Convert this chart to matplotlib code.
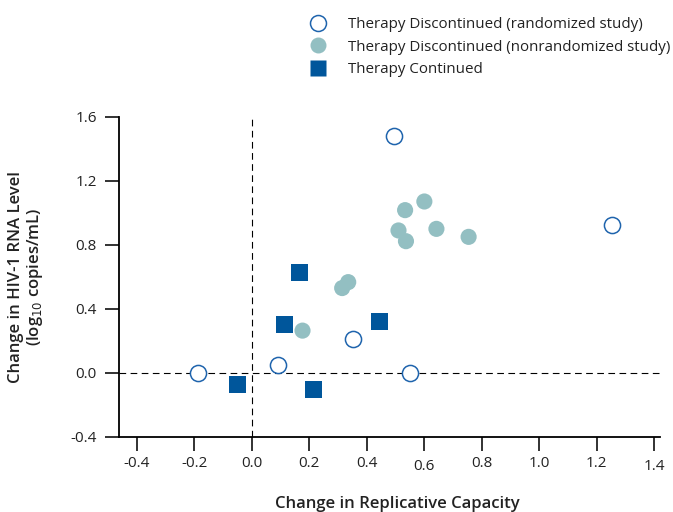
import matplotlib.pyplot as plt
import matplotlib.transforms as mtransforms
from matplotlib.lines import Line2D

plt.rcParams['font.family'] = ['Open Sans', 'DejaVu Sans']

# data
rand_x = [0.496, 1.252, 0.350, 0.091, -0.187, 0.550]
rand_y = [1.48, 0.922, 0.208, 0.048, 0.0, 0.0]

nonrand_x = [0.600, 0.533, 0.510, 0.536, 0.642, 0.754, 0.335, 0.314, 0.176]
nonrand_y = [1.070, 1.016, 0.889, 0.822, 0.899, 0.849, 0.566, 0.529, 0.263]

cont_x = [0.165, 0.113, 0.443, -0.050, 0.214]
cont_y = [0.627, 0.302, 0.320, -0.073, -0.104]

x_ticks = [-0.4, -0.2, 0.0, 0.2, 0.4, 0.6, 0.8, 1.0, 1.2, 1.4]
y_ticks = [-0.4, 0.0, 0.4, 0.8, 1.2, 1.6]

dark_blue = "#00569b"
teal = "#93bfc2"
ring = "#1f64ad"
txt = "#222222"

W, H = 673, 512
fig = plt.figure(figsize=(W / 100, H / 100), dpi=100)
ax = fig.add_axes([119 / W, 1 - 436.7 / H, (660 - 119) / W, (436.7 - 116.7) / H])

ax.axhline(0, color="black", lw=0.8, dashes=(6, 4), zorder=1)
ax.axvline(0, color="black", lw=0.8, dashes=(6, 4), zorder=1)

ax.scatter(nonrand_x, nonrand_y, s=135, marker="o", color=teal, edgecolor="none", zorder=3)
ax.scatter(cont_x, cont_y, s=150, marker="s", color=dark_blue, edgecolor="none", zorder=3)
ax.scatter(rand_x, rand_y, s=135, marker="o", facecolor="white", edgecolor=ring, linewidth=1.1, zorder=4)

ax.set_xlim(-0.4626, 1.42)
ax.set_ylim(-0.4, 1.6)
ax.set_xticks(x_ticks)
ax.set_yticks(y_ticks)
ax.set_xticklabels(["%.1f" % v for v in x_ticks])
ax.set_yticklabels(["%.1f" % v for v in y_ticks])

for s in ["top", "right"]:
    ax.spines[s].set_visible(False)
for s in ["left", "bottom"]:
    ax.spines[s].set_linewidth(1.3)
ax.tick_params(axis="both", direction="out", length=10, width=1.3, labelsize=11, colors=txt)
ax.tick_params(axis="x", pad=4)
ax.tick_params(axis="y", pad=6)

# the 0.6 and 1.4 labels sit a little lower in the original
fig.canvas.draw()
shift = mtransforms.ScaledTranslation(0, -3 / 100, fig.dpi_scale_trans)
for lab in ax.get_xticklabels():
    if lab.get_text() in ("0.6", "1.4"):
        lab.set_transform(lab.get_transform() + shift)

ax.set_ylabel("Change in HIV-1 RNA Level\n(log$_{10}$ copies/mL)", fontsize=12,
              fontweight="semibold", color=txt, labelpad=18, linespacing=1.1)
fig.text(397 / W, 1 - 504 / H, "Change in Replicative Capacity", fontsize=12,
         fontweight="semibold", color=txt, ha="center", va="center")

handles = [
    Line2D([], [], ls="none", marker="o", markersize=11.5, markerfacecolor="white",
           markeredgecolor=ring, markeredgewidth=1.1),
    Line2D([], [], ls="none", marker="o", markersize=11.5, markerfacecolor=teal, markeredgecolor="none"),
    Line2D([], [], ls="none", marker="s", markersize=11.5, markerfacecolor=dark_blue, markeredgecolor="none"),
]
labels = ["Therapy Discontinued (randomized study)",
          "Therapy Discontinued (nonrandomized study)",
          "Therapy Continued"]
fig.legend(handles, labels, loc="upper left", bbox_to_anchor=(301 / W, 1 - 11 / H),
           frameon=False, fontsize=10.9, handletextpad=1.2, labelspacing=0.5,
           borderaxespad=0, handlelength=1.5, labelcolor=txt)

plt.savefig("out.png", dpi=100)
